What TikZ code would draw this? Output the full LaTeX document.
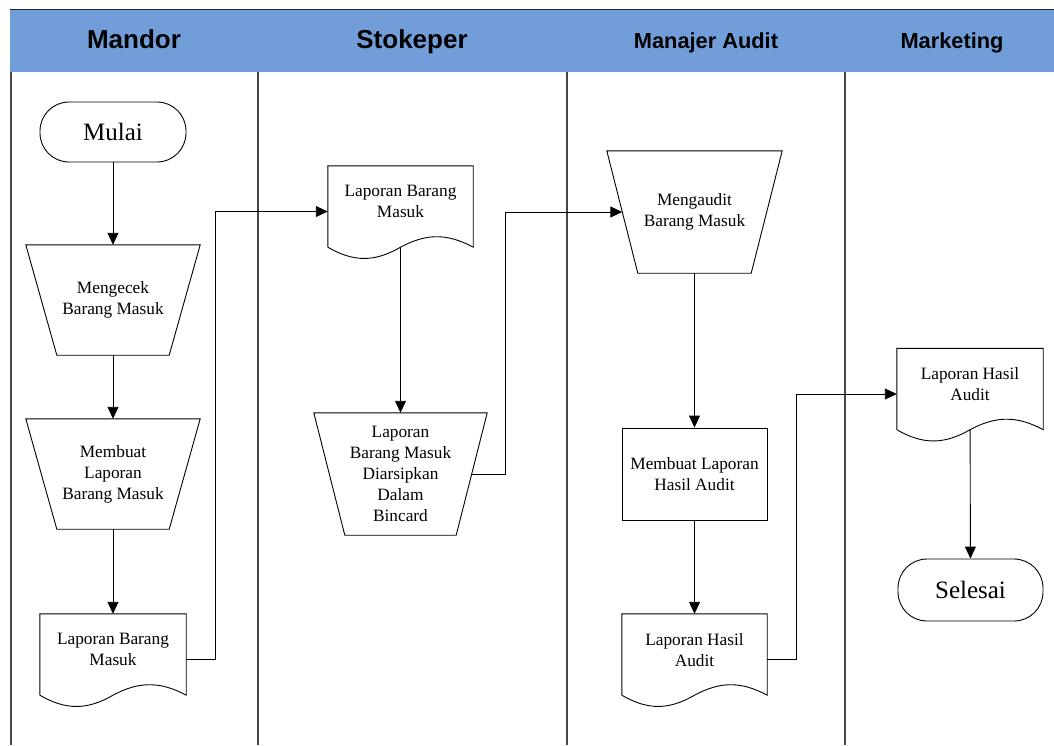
\documentclass[tikz,border=0pt]{standalone}
\usepackage{fontspec}
\setmainfont{Liberation Serif}
\newfontfamily\headfont{Liberation Sans}
\usetikzlibrary{arrows.meta}
\definecolor{headblue}{RGB}{113,158,217}
\definecolor{laneline}{RGB}{70,70,70}

\begin{document}
\begin{tikzpicture}[x=1pt,y=-1pt,
  lane/.style={draw=laneline, line width=1.1pt},
  headtxt/.style={font=\headfont\bfseries\fontsize{#1}{#1}\selectfont, anchor=base},
  box/.style={rectangle, inner sep=2pt, align=center,
    font=\fontsize{17.3}{21}\selectfont},
  term/.style={box, draw, line width=0.9pt, rounded corners=29pt,
    minimum width=146pt, minimum height=60pt,
    font=\fontsize{25}{30}\selectfont},
  procbox/.style={box, draw, line width=0.9pt},
  manual/.style={box, minimum height=#1},
  docbox/.style={box, minimum height=81pt},
  outline/.style={draw, line width=0.9pt},
  arr/.style={line width=0.9pt, -{Triangle[length=12pt,width=11pt]}},
  link/.style={line width=0.9pt}
]
\useasboundingbox (0,0) rectangle (1054,745);

% header band and swimlane separators
\fill[headblue] (10,10) rectangle (1054,72);
\draw[black!85, line width=1pt] (10,9.5) -- (1054,9.5);
\foreach \x in {11,258,567,845}
  \draw[lane] (\x,72) -- (\x,745);

\node[headtxt=26] (h1) at (134,48) {Mandor};
\node[headtxt=26] (h2) at (412,48) {Stokeper};
\node[headtxt=21.8] (h3) at (706,48) {Manajer Audit};
\node[headtxt=21.8] (h4) at (952,48) {Marketing};

% Mandor
\node[term] (s) at (113,132) {Mulai};
\node[manual=110pt, minimum width=174pt] (t1) at (113,300) {Mengecek\\Barang Masuk};
\node[manual=110pt, minimum width=174pt] (t2) at (113,474) {Membuat\\Laporan\\Barang Masuk};
\node[docbox, minimum width=146pt] (d1) at (113,654.5)
  {Laporan Barang\\Masuk\rule[-10pt]{0pt}{0pt}};

% Stokeper
\node[docbox, minimum width=145pt] (d2) at (400.5,206.5)
  {Laporan Barang\\Masuk\rule[-10pt]{0pt}{0pt}};
\node[manual=122pt, minimum width=173pt] (t3) at (400.5,474)
  {Laporan\\Barang Masuk\\Diarsipkan\\Dalam\\Bincard};

% Manajer Audit
\node[manual=122pt, minimum width=175pt] (t4) at (694.5,212) {Mengaudit\\Barang Masuk};
\node[procbox, minimum width=145pt, minimum height=92pt] (r) at (694.5,474)
  {Membuat Laporan\\Hasil Audit};
\node[docbox, minimum width=145pt] (d3) at (694.5,654.5)
  {Laporan Hasil\\Audit\rule[-10pt]{0pt}{0pt}};

% Marketing
\node[docbox, minimum width=146pt] (d4) at (970,389)
  {Laporan Hasil\\Audit\rule[-10pt]{0pt}{0pt}};
\node[term, minimum width=145pt, minimum height=62pt] (e) at (970.5,590) {Selesai};

% manual operation outlines
\foreach \n in {t1,t2,t3,t4}
  \draw[outline] (\n.north west) -- (\n.north east)
    -- ([xshift=-31pt]\n.south east) -- ([xshift=31pt]\n.south west) -- cycle;

% document outlines with wavy bottom edge
\foreach \n in {d1,d2,d3,d4}
  \draw[outline] (\n.south west) -- (\n.north west) -- (\n.north east) -- (\n.south east)
    .. controls +(-26,-14) and +(26,-14) .. (\n.south)
    .. controls +(-26,15) and +(26,15) .. (\n.south west);

% flow
\draw[arr] (s) -- (t1);
\draw[arr] (t1) -- (t2);
\draw[arr] (t2) -- (d1);
\draw[arr] ([yshift=-5pt]d1.east) -- ++(29,0) |- ([yshift=-5pt]d2.west);
\draw[arr] (d2) -- (t3);
\draw[arr] ([xshift=-15.5pt]t3.east) -- ++(34,0) |- ([xshift=15.5pt]t4.west);
\draw[arr] (t4) -- (r);
\draw[arr] (r) -- (d3);
\draw[arr] ([yshift=-5pt]d3.east) -- ++(29,0) |- ([yshift=-5pt]d4.west);
\draw[arr] (d4) -- (e);
\end{tikzpicture}
\end{document}
